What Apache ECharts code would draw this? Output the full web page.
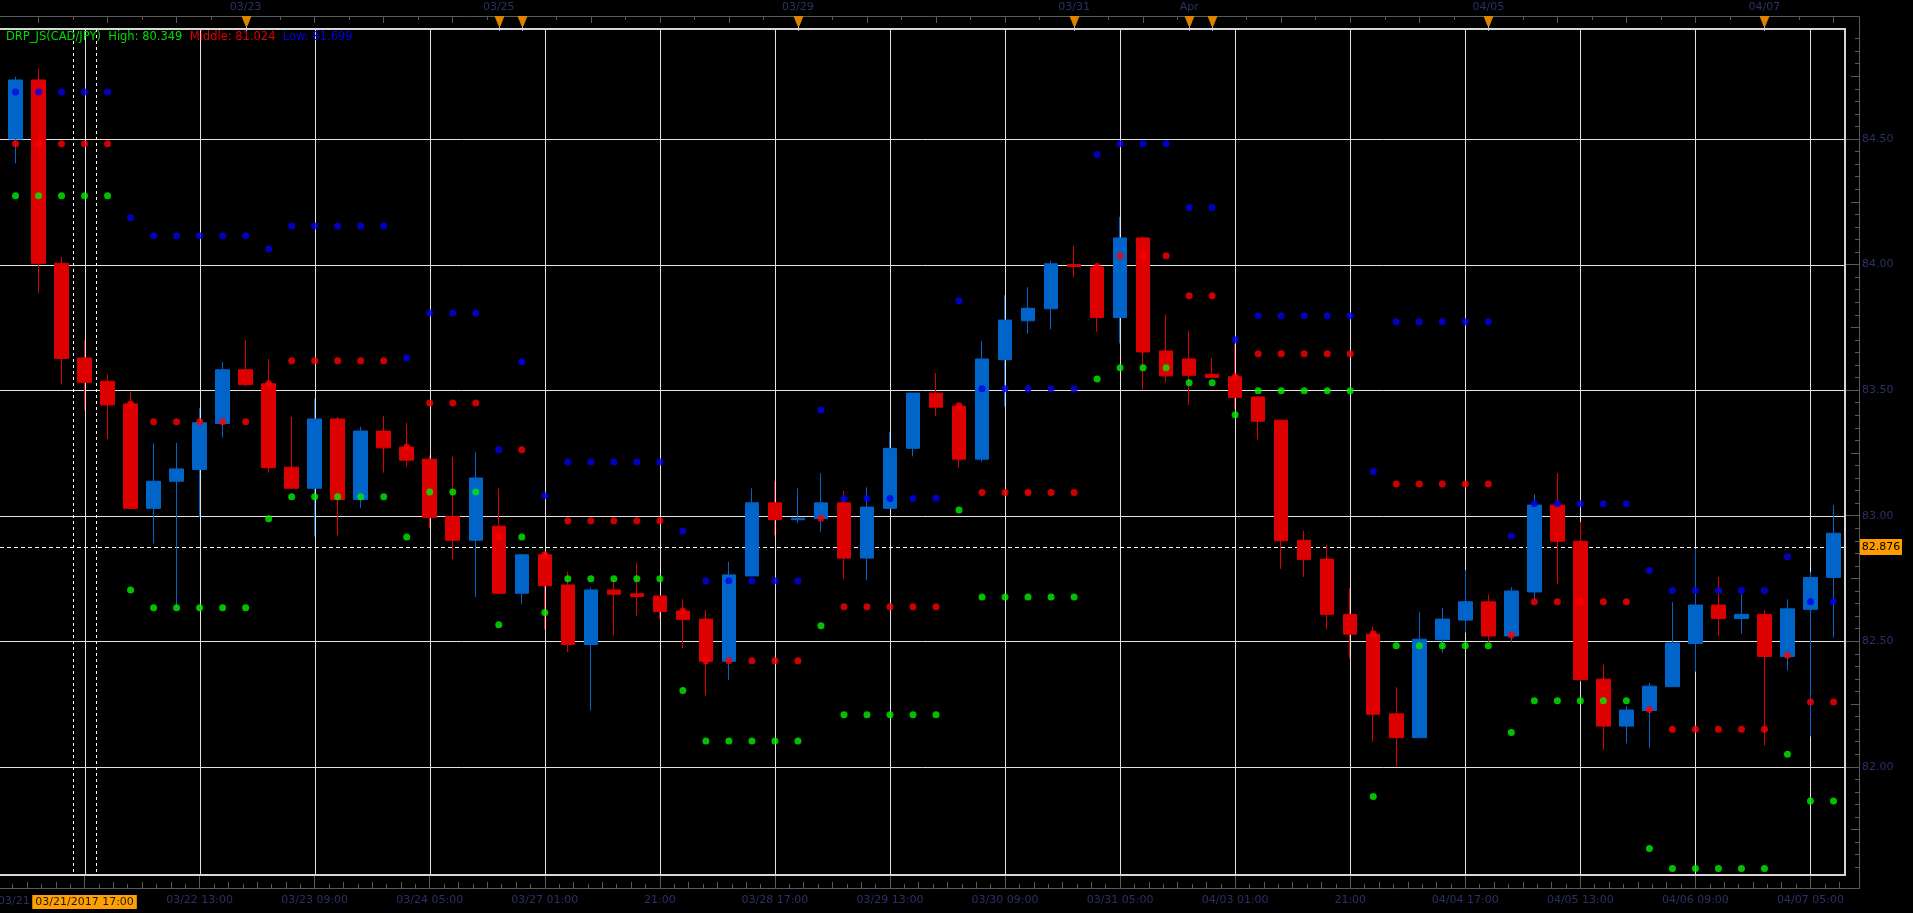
<!DOCTYPE html>
<html><head><meta charset="utf-8">
<script src="https://cdn.jsdelivr.net/npm/echarts@6/dist/echarts.min.js"></script>
<style>html,body{margin:0;padding:0;background:#000;}#c{width:1913px;height:913px;}</style>
</head><body><div id="c"></div>
<script>
// ---------------- DATA ----------------
const categories = [
'03/21 05:00','03/21 09:00','03/21 13:00','03/21 17:00','03/21 21:00',
'03/22 01:00','03/22 05:00','03/22 09:00','03/22 13:00','03/22 17:00','03/22 21:00',
'03/23 01:00','03/23 05:00','03/23 09:00','03/23 13:00','03/23 17:00','03/23 21:00',
'03/24 01:00','03/24 05:00','03/24 09:00','03/24 13:00','03/24 17:00','03/24 21:00',
'03/27 01:00','03/27 05:00','03/27 09:00','03/27 13:00','03/27 17:00','03/27 21:00',
'03/28 01:00','03/28 05:00','03/28 09:00','03/28 13:00','03/28 17:00','03/28 21:00',
'03/29 01:00','03/29 05:00','03/29 09:00','03/29 13:00','03/29 17:00','03/29 21:00',
'03/30 01:00','03/30 05:00','03/30 09:00','03/30 13:00','03/30 17:00','03/30 21:00',
'03/31 01:00','03/31 05:00','03/31 09:00','03/31 13:00','03/31 17:00','03/31 21:00',
'04/03 01:00','04/03 05:00','04/03 09:00','04/03 13:00','04/03 17:00','04/03 21:00',
'04/04 01:00','04/04 05:00','04/04 09:00','04/04 13:00','04/04 17:00','04/04 21:00',
'04/05 01:00','04/05 05:00','04/05 09:00','04/05 13:00','04/05 17:00','04/05 21:00',
'04/06 01:00','04/06 05:00','04/06 09:00','04/06 13:00','04/06 17:00','04/06 21:00',
'04/07 01:00','04/07 05:00','04/07 09:00'
];
// [open, close, low, high]
const candles = [
[84.500,84.735,84.403,84.748],[84.735,84.005,83.886,84.780],[84.005,83.626,83.522,84.031],[83.628,83.531,83.419,83.699],[83.535,83.441,83.305,83.563],
[83.445,83.029,83.029,83.494],[83.029,83.137,82.889,83.288],[83.137,83.186,82.633,83.290],[83.184,83.370,82.993,83.428],[83.367,83.581,83.311,83.611],
[83.581,83.522,83.516,83.699],[83.525,83.191,83.171,83.624],[83.193,83.109,83.105,83.393],[83.109,83.385,82.917,83.466],[83.385,83.064,82.922,83.393],
[83.064,83.337,83.031,83.354],[83.337,83.270,83.171,83.397],[83.273,83.221,83.195,83.370],[83.225,82.993,82.950,83.240],[82.997,82.902,82.827,83.234],
[82.902,83.150,82.676,83.253],[82.958,82.691,82.687,83.109],[82.691,82.844,82.648,82.848],[82.844,82.721,82.547,82.857],[82.724,82.487,82.457,82.777],
[82.487,82.704,82.224,82.713],[82.704,82.687,82.523,82.745],[82.689,82.678,82.599,82.812],[82.680,82.618,82.590,82.680],[82.620,82.586,82.472,82.667],
[82.588,82.420,82.284,82.624],[82.420,82.764,82.345,82.816],[82.760,83.051,82.760,83.109],[83.051,82.984,82.922,83.137],[82.984,82.990,82.971,83.109],
[82.988,83.051,82.935,83.169],[83.051,82.831,82.747,83.098],[82.831,83.034,82.743,83.113],[83.029,83.268,83.029,83.333],[83.268,83.488,83.236,83.488],
[83.488,83.432,83.397,83.568],[83.436,83.225,83.191,83.436],[83.225,83.624,83.214,83.695],[83.621,83.779,83.434,83.878],[83.776,83.826,83.725,83.910],
[83.824,84.003,83.742,84.016],[84.000,83.992,83.949,84.074],[83.990,83.789,83.733,84.000],[83.789,84.106,83.686,84.190],[84.106,83.652,83.501,84.112],
[83.656,83.557,83.531,83.802],[83.624,83.559,83.441,83.736],[83.563,83.550,83.548,83.628],[83.553,83.471,83.423,83.682],[83.473,83.376,83.303,83.473],
[83.380,82.900,82.788,83.380],[82.902,82.825,82.756,82.939],[82.827,82.607,82.547,82.885],[82.607,82.528,82.431,82.713],[82.528,82.209,82.099,82.556],
[82.211,82.116,82.002,82.317],[82.116,82.508,82.116,82.616],[82.506,82.588,82.454,82.633],[82.584,82.657,82.534,82.782],[82.657,82.521,82.497,82.687],
[82.521,82.700,82.497,82.715],[82.696,83.042,82.667,83.085],[83.042,82.898,82.726,83.169],[82.898,82.347,82.340,82.975],[82.349,82.162,82.067,82.407],
[82.162,82.226,82.093,82.241],[82.224,82.321,82.075,82.334],[82.319,82.493,82.319,82.655],[82.491,82.644,82.379,82.868],[82.644,82.590,82.521,82.756],
[82.590,82.607,82.530,82.687],[82.607,82.439,82.084,82.624],[82.439,82.629,82.383,82.667],[82.627,82.754,82.121,82.775],[82.754,82.930,82.515,83.042]
];
// green dots ("High")
const highBand = [
84.274,84.274,84.274,84.274,84.274,82.704,82.633,82.633,82.633,82.633,
82.633,82.988,83.075,83.075,83.075,83.075,83.075,82.915,83.094,83.094,
83.094,82.566,82.915,82.614,82.749,82.749,82.749,82.749,82.749,82.304,
82.103,82.103,82.103,82.103,82.103,82.562,82.207,82.207,82.207,82.207,
82.207,83.023,82.676,82.676,82.676,82.676,82.676,83.544,83.589,83.589,
83.589,83.529,83.529,83.402,83.497,83.497,83.497,83.497,83.497,81.882,
82.482,82.482,82.482,82.482,82.482,82.136,82.263,82.263,82.263,82.263,
82.263,81.675,81.595,81.595,81.595,81.595,81.595,82.050,81.864,81.864
];
// red dots ("Middle")
const midBand = [
84.481,84.481,84.481,84.481,84.481,83.445,83.374,83.374,83.374,83.374,
83.374,83.525,83.617,83.617,83.617,83.617,83.617,83.273,83.449,83.449,
83.449,82.915,83.262,82.844,82.980,82.980,82.980,82.980,82.980,82.620,
82.422,82.422,82.422,82.422,82.422,82.990,82.637,82.637,82.637,82.637,
82.637,83.438,83.092,83.092,83.092,83.092,83.092,83.992,84.035,84.035,
84.035,83.876,83.876,83.553,83.645,83.645,83.645,83.645,83.645,82.530,
83.126,83.126,83.126,83.126,83.126,82.525,82.657,82.657,82.657,82.657,
82.657,82.228,82.149,82.149,82.149,82.149,82.149,82.444,82.258,82.258
];
// blue dots ("Low")
const lowBand = [
84.687,84.687,84.687,84.687,84.687,84.186,84.115,84.115,84.115,84.115,
84.115,84.063,84.153,84.153,84.153,84.153,84.153,83.628,83.807,83.807,
83.807,83.262,83.613,83.079,83.214,83.214,83.214,83.214,83.214,82.939,
82.741,82.741,82.741,82.741,82.741,83.421,83.068,83.068,83.068,83.068,
83.068,83.856,83.505,83.505,83.505,83.505,83.505,84.438,84.481,84.481,
84.481,84.227,84.227,83.701,83.796,83.796,83.796,83.796,83.796,83.176,
83.772,83.772,83.772,83.772,83.772,82.919,83.047,83.047,83.047,83.047,
83.047,82.782,82.702,82.702,82.702,82.702,82.702,82.836,82.657,82.657
];
const priceTicks = [82.0, 82.5, 83.0, 83.5, 84.0, 84.5];
const bottomLabelIdx = [3,8,13,18,23,28,33,38,43,48,53,58,63,68,73,78];
const bottomLabels = ['03/21/2017 17:00','03/22 13:00','03/23 09:00','03/24 05:00','03/27 01:00','21:00','03/28 17:00','03/29 13:00','03/30 09:00','03/31 05:00','04/03 01:00','21:00','04/04 17:00','04/05 13:00','04/06 09:00','04/07 05:00'];
const topLabelIdx = [10,21,34,46,51,64,76];
const topLabels = ['03/23','03/25','03/29','03/31','Apr','04/05','04/07'];
const eventIdx = [10,21,22,34,46,51,52,64,76];
const selectedIdx = 3;
const lastPrice = 82.876;
const legendName = 'DRP_JS(CAD/JPY)';
const legendHigh = 'High: 80.349', legendMid = 'Middle: 81.024', legendLow = 'Low: 81.699';

// ---------------- STYLE / LAYOUT ----------------
const FONT = 'DejaVu Sans';
const LABEL = '#2b3068';
const AXIS = '#5a5a5a';
const GRIDC = '#e2e2e2';
const Y_MIN = 81.569, Y_MAX = 84.938;
const X_MIN = -0.5, X_MAX = categories.length - 0.5;

// tick positions (decoration only)
const longX = [], shortX = [];
for (let k = -1; k < 17; k++) {
  const b = 3 + 5 * k;
  [1.25, 2.5, 3.75].forEach(d => { const v = b + d; if (v > X_MIN && v < X_MAX) longX.push(v); });
  [0.625, 1.875, 3.125, 4.375].forEach(d => { const v = b + d; if (v > X_MIN && v < X_MAX) shortX.push(v); });
}
const topLong = [], topShort = [];
for (let v = 1; v < X_MAX; v += 3) topLong.push(v);
for (let v = 2.5; v < X_MAX; v += 3) topShort.push(v);
const yMid = [], yMinor = [];
for (let k = Math.ceil(Y_MIN / 0.05); k * 0.05 < Y_MAX; k++) {
  const v = +(k * 0.05).toFixed(2);
  if (Math.abs(v * 2 - Math.round(v * 2)) < 1e-6) continue;
  if (Math.abs(v * 4 - Math.round(v * 4)) < 1e-6) yMid.push(v); else yMinor.push(v);
}

function xTickAxis(pos, offset, values, len) {
  return { type: 'value', gridIndex: 0, position: pos, offset: offset, min: X_MIN, max: X_MAX,
    axisLine: { show: false, onZero: false }, splitLine: { show: false }, axisLabel: { show: false },
    axisTick: { show: true, inside: true, length: len, customValues: values, lineStyle: { color: AXIS } } };
}
function yTickAxis(values, len) {
  return { type: 'value', position: 'right', offset: 14, min: Y_MIN, max: Y_MAX,
    axisLine: { show: false, onZero: false }, splitLine: { show: false }, axisLabel: { show: false },
    axisTick: { show: true, inside: true, length: len, customValues: values, lineStyle: { color: AXIS } } };
}

const chart = echarts.init(document.getElementById('c'));
chart.setOption({
  backgroundColor: '#000',
  animation: false,
  title: {
    left: 6, top: 31, padding: 0,
    text: '{g|' + legendName + '}  {g|' + legendHigh + '}  {r|' + legendMid + '}  {b|' + legendLow + '}',
    textStyle: { fontSize: 11.5, fontFamily: FONT, fontWeight: 'normal',
      rich: { g: { color: '#00dc00', fontSize: 11.5, fontFamily: FONT },
              r: { color: '#e00000', fontSize: 11.5, fontFamily: FONT },
              b: { color: '#0000e0', fontSize: 11.5, fontFamily: FONT } } }
  },
  grid: { left: 4, top: 29, width: 1841, height: 846 },
  xAxis: [
    { type: 'category', data: categories, position: 'bottom', offset: 13, boundaryGap: true,
      axisLine: { show: false, onZero: false }, axisTick: { show: false }, splitLine: { show: false },
      axisLabel: { interval: (idx) => bottomLabelIdx.includes(idx), margin: 7,
        color: LABEL, fontSize: 11, fontFamily: FONT,
        formatter: (v, idx) => { const k = bottomLabelIdx.indexOf(idx); if (k < 0) return '';
          return idx === selectedIdx ? '{hl|' + bottomLabels[k] + '}' : bottomLabels[k]; },
        rich: { hl: { backgroundColor: '#ffa000', color: '#1a1a1a', fontSize: 11, fontFamily: FONT, padding: [2, 3, 1, 3] } } } },
    { type: 'category', data: categories, position: 'top', offset: 13, boundaryGap: true,
      axisLine: { show: false, onZero: false }, axisTick: { show: false }, splitLine: { show: false },
      axisLabel: { interval: (idx) => topLabelIdx.includes(idx), margin: 3,
        color: LABEL, fontSize: 11, fontFamily: FONT,
        formatter: (v, idx) => { const k = topLabelIdx.indexOf(idx); return k < 0 ? '' : topLabels[k]; } } },
    xTickAxis('bottom', 13, bottomLabelIdx, 13),
    xTickAxis('bottom', 13, longX, 6),
    xTickAxis('bottom', 13, shortX, 4),
    xTickAxis('top', 13, topLong, 7),
    xTickAxis('top', 13, topShort, 4)
  ],
  yAxis: [
    { type: 'value', position: 'right', offset: 14, min: Y_MIN, max: Y_MAX,
      axisLine: { show: false, onZero: false }, splitLine: { show: false },
      axisTick: { show: true, inside: true, length: 14, customValues: priceTicks, lineStyle: { color: AXIS } },
      axisLabel: { customValues: priceTicks, margin: 3, color: LABEL, fontSize: 11, fontFamily: FONT,
        formatter: (v) => Number(v).toFixed(2) } },
    yTickAxis(yMid, 8),
    yTickAxis(yMinor, 4)
  ],
  graphic: [
    { type: 'rect', silent: true, z: 0, shape: { x: -5, y: 16.5, width: 1864.5, height: 872 },
      style: { fill: null, stroke: AXIS, lineWidth: 1 } },
    { type: 'rect', silent: true, z: 100, shape: { x: -1, y: 29, width: 1846, height: 846 },
      style: { fill: null, stroke: '#d6d6d6', lineWidth: 2 } },
    { type: 'text', silent: true, left: -2, top: 896, style: { text: '03/21', fill: LABEL, font: '11px "DejaVu Sans"' } }
  ],
  series: [
    { type: 'custom', name: 'hgrid', silent: true, z: 1, clip: false,
      data: priceTicks.map(v => [0, v]),
      renderItem: (params, api) => { const cs = params.coordSys;
        const y = Math.round(api.coord([0, api.value(1)])[1]) + 0.5;
        return { type: 'line', shape: { x1: cs.x - 4, y1: y, x2: cs.x + cs.width, y2: y }, style: { stroke: GRIDC, lineWidth: 1 } }; } },
    { type: 'custom', name: 'vgrid', silent: true, z: 1, clip: false,
      data: bottomLabelIdx.map(i => [i, 83]),
      renderItem: (params, api) => { const cs = params.coordSys;
        const x = Math.round(api.coord([api.value(0), 83])[0]) + 0.5;
        return { type: 'line', shape: { x1: x, y1: cs.y, x2: x, y2: cs.y + cs.height }, style: { stroke: GRIDC, lineWidth: 1 } }; } },
    { type: 'custom', name: 'selection', silent: true, z: 2, clip: false,
      data: [[selectedIdx, 83]],
      renderItem: (params, api) => { const cs = params.coordSys;
        const c = api.coord([api.value(0), 83])[0]; const h = api.size([1, 0])[0] / 2;
        const mk = (x) => ({ type: 'line', shape: { x1: x, y1: cs.y, x2: x, y2: cs.y + cs.height }, style: { stroke: '#ffffff', lineWidth: 1, lineDash: [3, 3] } });
        return { type: 'group', children: [mk(Math.round(c - h) + 0.5), mk(Math.round(c + h) + 0.5)] }; } },
    { type: 'custom', name: 'last', silent: true, z: 2, clip: false,
      data: [[0, lastPrice]],
      renderItem: (params, api) => { const cs = params.coordSys;
        const y = Math.round(api.coord([0, api.value(1)])[1]) + 0.5; const bx = cs.x + cs.width + 15;
        return { type: 'group', children: [
          { type: 'line', shape: { x1: cs.x - 4, y1: y, x2: cs.x + cs.width, y2: y }, style: { stroke: '#ffffff', lineWidth: 1, lineDash: [4, 3] } },
          { type: 'rect', shape: { x: bx, y: y - 8.5, width: 42, height: 16 }, style: { fill: '#ff9c00' } },
          { type: 'text', x: bx + 21, y: y, style: { text: lastPrice.toFixed(3), fill: '#000', font: '11px "DejaVu Sans"', align: 'center', verticalAlign: 'middle' } }
        ] }; } },
    { type: 'candlestick', name: legendName, data: candles, barWidth: 14, z: 3,
      itemStyle: { color: '#0064c8', color0: '#dc0000', borderColor: '#0064c8', borderColor0: '#dc0000', borderWidth: 1 } },
    { type: 'scatter', name: 'High', data: highBand, symbol: 'circle', symbolSize: 7, z: 4, itemStyle: { color: '#00f000' } },
    { type: 'scatter', name: 'Middle', data: midBand, symbol: 'circle', symbolSize: 7, z: 4, itemStyle: { color: '#ff0000' } },
    { type: 'scatter', name: 'Low', data: lowBand, symbol: 'circle', symbolSize: 7, z: 4, itemStyle: { color: '#0000f0' } },
    { type: 'custom', name: 'events', silent: true, z: 5, clip: false,
      data: eventIdx.map(i => [i, 84]),
      renderItem: (params, api) => { const cs = params.coordSys;
        const x = Math.round(api.coord([api.value(0), 84])[0]) + 0.5; const y0 = cs.y - 13;
        return { type: 'group', children: [
          { type: 'line', shape: { x1: x, y1: y0, x2: x, y2: cs.y + 2 }, style: { stroke: '#b0b0b0', lineWidth: 1 } },
          { type: 'polygon', shape: { points: [[x - 5, y0], [x + 5, y0], [x + 1, y0 + 10], [x - 1, y0 + 10]] }, style: { fill: '#e08400' } }
        ] }; } }
  ]
});
</script>
</body></html>
